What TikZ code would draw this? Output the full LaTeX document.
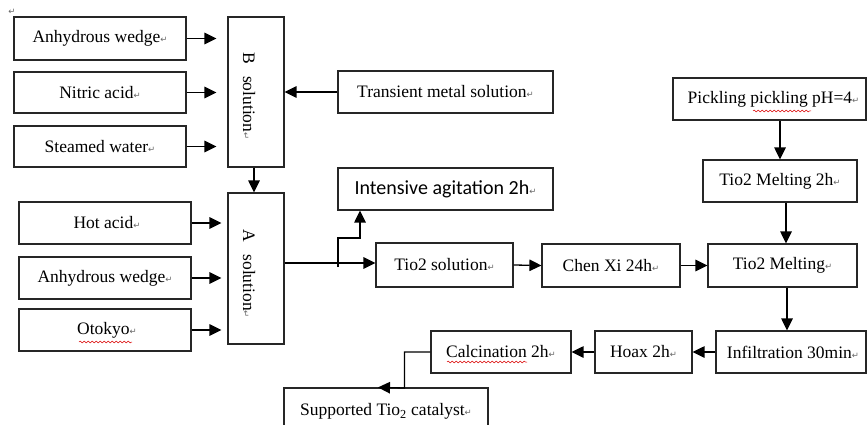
\documentclass[tikz,border=0pt]{standalone}
\usepackage{fontspec}
\setmainfont{Liberation Serif}
\newfontfamily\calfont{Carlito}
\newfontfamily\symfont{DejaVu Sans}
\usetikzlibrary{arrows.meta,decorations.pathmorphing}
\newcommand\rt{{\symfont\fontsize{8.5}{8.5}\selectfont\textcolor{black!60}{↵}}}
\tikzset{
  box/.style={draw=black!85, line width=1.2pt, inner sep=0pt, align=center,
              font=\fontsize{17.5}{20}\selectfont},
  arr/.style={draw=black, line width=1.3pt, -{Triangle[length=12pt,width=11.5pt]}},
  wavy/.style={draw=red!85!black, line width=0.5pt, decorate,
               decoration={snake, segment length=4pt, amplitude=0.9pt}}
}
\begin{document}
\begin{tikzpicture}[x=1pt,y=-1pt]
\useasboundingbox (0,0) rectangle (867,425);
\clip (0,0) rectangle (867,425);
\node[inner sep=0pt] (mk) at (12,12) {\rt};
% left inputs to B
\node[box, minimum width=172, minimum height=43] (aw1) at (100,38.5) {Anhydrous wedge\rt};
\node[box, minimum width=172, minimum height=41] (na) at (100,92.5) {Nitric acid\rt};
\node[box, minimum width=172, minimum height=41] (sw) at (100,146.5) {Steamed water\rt};
\node[box, minimum width=56, minimum height=150] (B) at (256,92) {};
\node[inner sep=0pt, rotate=-90, font=\fontsize{17.5}{20}\selectfont] (Bt) at (249,96) {B\hspace{12pt}solution\rt};
\node[box, minimum width=215, minimum height=42] (tm) at (445.5,92) {Transient metal solution\rt};
% A solution
\node[box, minimum width=56, minimum height=151] (A) at (256,268.5) {};
\node[inner sep=0pt, rotate=-90, font=\fontsize{17.5}{20}\selectfont] (At) at (249,274) {A\hspace{12pt}solution\rt};
\node[box, minimum width=172, minimum height=42] (ha) at (105,223) {\hspace{4pt}Hot acid\rt};
\node[box, minimum width=172, minimum height=42] (aw2) at (105,278) {Anhydrous wedge\rt};
\node[box, minimum width=172, minimum height=42] (ot) at (105,330) {\hspace{4pt}Otokyo\rt};
% middle
\node[box, minimum width=215, minimum height=42, font=\calfont\fontsize{20}{22}\selectfont] (ag) at (445.5,189) {Intensive agitation 2h\rt};
\node[box, minimum width=137, minimum height=44] (ts) at (444.5,265) {Tio2 solution\rt};
\node[box, minimum width=138, minimum height=43] (cx) at (611,265.5) {Chen Xi 24h\rt};
% right
\node[box, minimum width=193, minimum height=42] (pk) at (769.5,99) {\hspace{8pt}Pickling pickling pH=4\rt};
\node[box, minimum width=154, minimum height=42] (m2) at (780,181) {Tio2 Melting 2h\rt};
\node[box, minimum width=149, minimum height=43] (tm2) at (782.5,265.5) {Tio2 Melting\rt};
\node[box, minimum width=150, minimum height=42] (inf) at (791,352) {\hspace{4pt}Infiltration 30min\rt};
\node[box, minimum width=97, minimum height=42] (hx) at (643.5,352) {Hoax 2h\rt};
\node[box, minimum width=140, minimum height=42] (cal) at (501,352) {Calcination 2h\rt};
\node[box, minimum width=204, minimum height=47] (sup) at (386,411.5) {Supported Tio\textsubscript{2} catalyst\rt};
% connectors
\draw[arr, shorten >=11pt] (aw1.east) -- (aw1.east -| B.west);
\draw[arr, shorten >=11pt] (na.east) -- (na.east -| B.west);
\draw[arr, shorten >=11pt] (sw.east) -- (sw.east -| B.west);
\draw[arr] (tm.west) -- (tm.west -| B.east);
\draw[arr] ([xshift=-2pt]B.south) -- ([xshift=-2pt]A.north);
\draw[arr, shorten >=6pt] (ha.east) -- (ha.east -| A.west);
\draw[arr, shorten >=6pt] (aw2.east) -- (aw2.east -| A.west);
\draw[arr, shorten >=6pt] (ot.east) -- (ot.east -| A.west);
\draw[arr] ([yshift=2pt]ts.west -| A.east) -- ([yshift=2pt]ts.west);
\coordinate (j) at (338,267);
\coordinate (jb) at (338,238);
\draw[arr] (j) -- (jb) -| ([xshift=-85.5pt]ag.south);
\draw[arr] (ts.east) -- (cx.west);
\draw[arr] (cx.east) -- (tm2.west);
\draw[arr] (m2.north |- pk.south) -- (m2.north);
\draw[arr] ([xshift=6pt]m2.south) -- ([xshift=6pt]m2.south |- tm2.north);
\draw[arr] ([xshift=4.5pt]tm2.south) -- ([xshift=4.5pt]tm2.south |- inf.north);
\draw[arr] (inf.west) -- (hx.east);
\draw[arr] (hx.west) -- (cal.west -| cal.east);
\coordinate (k) at (404.5,388);
\draw[arr] (cal.west) -| (k) -- ([xshift=-8pt]sup.north);
% spell-check underlines
\draw[wavy] (79,342) -- (132,342);
\draw[wavy] (753,111) -- (811,111);
\draw[wavy] (447,362) -- (527,362);
\end{tikzpicture}
\end{document}
